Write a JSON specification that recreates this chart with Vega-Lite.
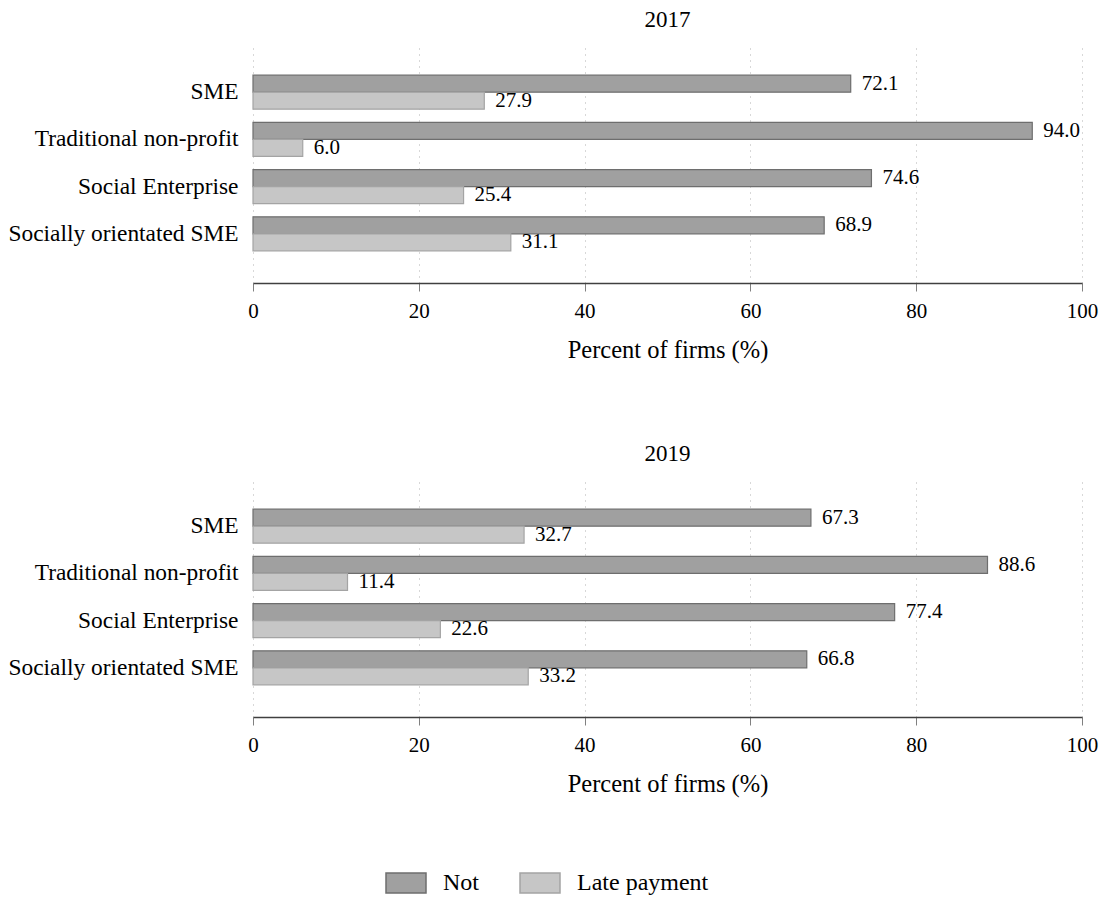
{
  "$schema": "https://vega.github.io/schema/vega-lite/v6.json",
  "padding": {"left": 8, "top": 9, "right": 5, "bottom": 5},
  "background": "white",
  "data": {"values": [
    {"year": "2017", "type": "SME", "status": "Not", "pct": 72.1},
    {"year": "2017", "type": "SME", "status": "Late payment", "pct": 27.9},
    {"year": "2017", "type": "Traditional non-profit", "status": "Not", "pct": 94.0},
    {"year": "2017", "type": "Traditional non-profit", "status": "Late payment", "pct": 6.0},
    {"year": "2017", "type": "Social Enterprise", "status": "Not", "pct": 74.6},
    {"year": "2017", "type": "Social Enterprise", "status": "Late payment", "pct": 25.4},
    {"year": "2017", "type": "Socially orientated SME", "status": "Not", "pct": 68.9},
    {"year": "2017", "type": "Socially orientated SME", "status": "Late payment", "pct": 31.1},
    {"year": "2019", "type": "SME", "status": "Not", "pct": 67.3},
    {"year": "2019", "type": "SME", "status": "Late payment", "pct": 32.7},
    {"year": "2019", "type": "Traditional non-profit", "status": "Not", "pct": 88.6},
    {"year": "2019", "type": "Traditional non-profit", "status": "Late payment", "pct": 11.4},
    {"year": "2019", "type": "Social Enterprise", "status": "Not", "pct": 77.4},
    {"year": "2019", "type": "Social Enterprise", "status": "Late payment", "pct": 22.6},
    {"year": "2019", "type": "Socially orientated SME", "status": "Not", "pct": 66.8},
    {"year": "2019", "type": "Socially orientated SME", "status": "Late payment", "pct": 33.2}
  ]},
  "facet": {
    "row": {
      "field": "year", "type": "nominal",
      "header": {"title": null, "labelOrient": "top", "labelAngle": 0, "labelFont": "Liberation Serif", "labelFontSize": 23, "labelColor": "black", "labelPadding": -12}
    }
  },
  "spacing": 81,
  "resolve": {"axis": {"x": "independent"}},
  "spec": {
    "width": 829,
    "height": 240,
    "encoding": {
      "y": {
        "field": "type", "type": "nominal",
        "sort": ["SME", "Traditional non-profit", "Social Enterprise", "Socially orientated SME"],
        "scale": {"paddingInner": 0.28, "paddingOuter": 0.68},
        "axis": {"title": null, "domain": false, "ticks": false, "labelFont": "Liberation Serif", "labelFontSize": 23.4, "labelColor": "black", "labelPadding": 9, "labelLimit": 400}
      },
      "yOffset": {"field": "status", "type": "nominal", "sort": ["Not", "Late payment"], "scale": {"paddingInner": 0, "paddingOuter": 0}},
      "x": {
        "field": "pct", "type": "quantitative",
        "scale": {"domain": [0, 100], "nice": false},
        "axis": {"title": "Percent of firms (%)", "values": [0, 20, 40, 60, 80, 100], "labelFont": "Liberation Serif", "labelFontSize": 21, "labelColor": "black", "titleFont": "Liberation Serif", "titleFontSize": 24.5, "titleFontWeight": "normal", "titleColor": "black", "titlePadding": 17, "labelPadding": 9, "tickSize": 8, "tickColor": "#808080", "domainColor": "#404040", "domainWidth": 1.5, "grid": true, "gridDash": [1, 5], "gridColor": "#b0b0b0", "labelFlush": false}
      }
    },
    "layer": [
      {
        "mark": {"type": "bar", "strokeWidth": 1.2},
        "encoding": {
          "color": {
            "field": "status", "type": "nominal",
            "sort": ["Not", "Late payment"],
            "scale": {"domain": ["Not", "Late payment"], "range": ["#a0a0a0", "#c6c6c6"]},
            "legend": {"title": null, "orient": "none", "legendX": 132, "legendY": 819, "direction": "horizontal", "labelFont": "Liberation Serif", "labelFontSize": 24, "labelColor": "black", "symbolType": "M-1,-0.5H1V0.5H-1Z", "symbolSize": 1600, "symbolStrokeWidth": 1.5, "labelOffset": 16, "columnPadding": 38, "symbolOpacity": 1}
          },
          "stroke": {
            "field": "status", "type": "nominal",
            "scale": {"domain": ["Not", "Late payment"], "range": ["#6e6e6e", "#a4a4a4"]},
            "legend": null
          }
        }
      },
      {
        "mark": {"type": "text", "align": "left", "baseline": "middle", "dx": 11, "font": "Liberation Serif", "fontSize": 21, "color": "black"},
        "encoding": {"text": {"field": "pct", "type": "quantitative", "format": ".1f"}}
      }
    ]
  },
  "config": {"view": {"stroke": null}, "axis": {"gridOpacity": 1}}
}
